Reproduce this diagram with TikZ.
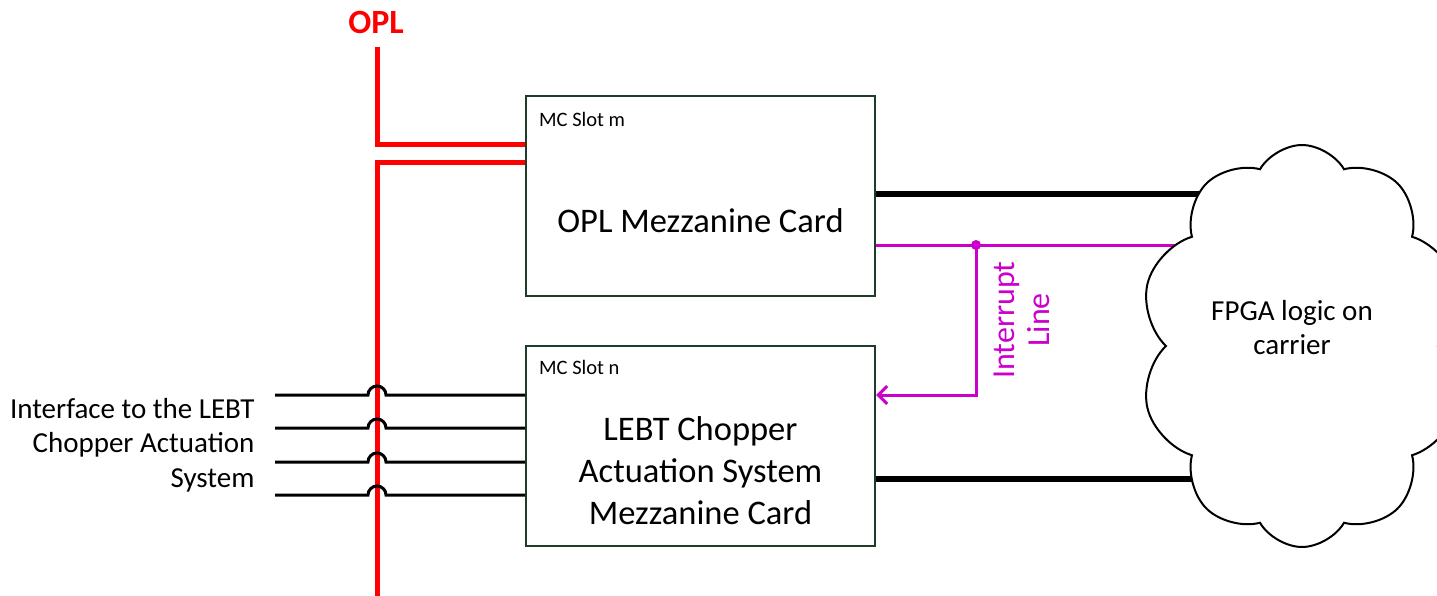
\documentclass[tikz,border=0pt]{standalone}
\usepackage{fontspec}
\setmainfont{Carlito}
\usetikzlibrary{shapes.symbols,arrows.meta}
\definecolor{oplred}{RGB}{255,0,0}
\definecolor{irqmagenta}{RGB}{204,0,204}
\definecolor{cardgreen}{RGB}{30,60,40}

\begin{document}
\begin{tikzpicture}[x=1pt, y=-1pt,
    card/.style={draw=cardgreen, line width=2pt, minimum width=349pt, minimum height=200pt, inner sep=0pt},
    cardtext/.style={align=center, font=\fontsize{34.5}{42}\selectfont},
    slot/.style={anchor=base west, inner sep=0pt, font=\fontsize{20.5}{22}\selectfont},
    bus/.style={draw=oplred, line width=5pt},
    wire/.style={draw=black, line width=3pt},
    link/.style={draw=black, line width=6pt},
    irq/.style={draw=irqmagenta, line width=3pt}]
    \useasboundingbox (0,0) rectangle (1437,596);

    % mezzanine cards
    \node[card] (opl) at (700.5,196) {};
    \node[card] (chop) at (700.5,445.5) {};
    \node[cardtext] (opltext) at ([yshift=-25pt]opl.center) {OPL Mezzanine Card};
    \node[cardtext] (choptext) at ([yshift=-25pt]chop.center) {LEBT Chopper\\Actuation System\\Mezzanine Card};
    \node[slot] (oplslot) at ([xshift=14pt, yshift=-32pt]opl.north west) {MC Slot m};
    \node[slot] (chopslot) at ([xshift=14pt, yshift=-30pt]chop.north west) {MC Slot n};

    % OPL bus
    \node[text=oplred, font=\bfseries\fontsize{34}{40}\selectfont] (opllabel) at (376,22) {OPL};
    \coordinate (opltop) at (377,47);
    \coordinate (oplbot) at (377,600);
    \draw[bus] (opltop) |- (opl.west |- 0,145);
    \draw[bus] (oplbot) |- (opl.west |- 0,163);

    % interface wires hopping over the bus
    \foreach \y [count=\i] in {395,428,462,495} {
        \coordinate (wire\i) at (275,\y);
        \draw[wire] (wire\i) -- ([xshift=-9pt]oplbot |- wire\i)
            arc[start angle=180, end angle=360, radius=9] -- (chop.west |- wire\i);
    }
    \node[anchor=east, align=right, font=\fontsize{29}{34.5}\selectfont] (iface) at (258,445)
        {Interface to the LEBT\\Chopper Actuation\\System};

    % links to the carrier
    \coordinate (fpgac) at (1302,346);
    \draw[link] (opl.east |- 0,194) -- (fpgac |- 0,194);
    \draw[link] (chop.east |- 0,479) -- (fpgac |- 0,479);

    % interrupt line
    \coordinate (irqdot) at (976,245);
    \draw[irq] (opl.east |- irqdot) -- (fpgac |- irqdot);
    \fill[irqmagenta] (irqdot) circle[radius=5];
    \draw[irq, -{Straight Barb[length=9pt, width=18pt]}] (irqdot) |- (chop.east |- 0,395);
    \node[rotate=90, align=center, text=irqmagenta, font=\fontsize{32}{35}\selectfont] (irqtext) at (1022,320)
        {Interrupt\\Line};

    % carrier
    \node[cloud, draw, fill=white, line width=2pt, cloud puffs=10, cloud puff arc=120,
        cloud ignores aspect, minimum width=325pt, minimum height=402pt] (fpga) at (fpgac) {};
    \node[align=center, font=\fontsize{29}{34}\selectfont] (fpgatext) at ([xshift=-10pt, yshift=18pt]fpga.center)
        {FPGA logic on\\carrier};
\end{tikzpicture}
\end{document}
